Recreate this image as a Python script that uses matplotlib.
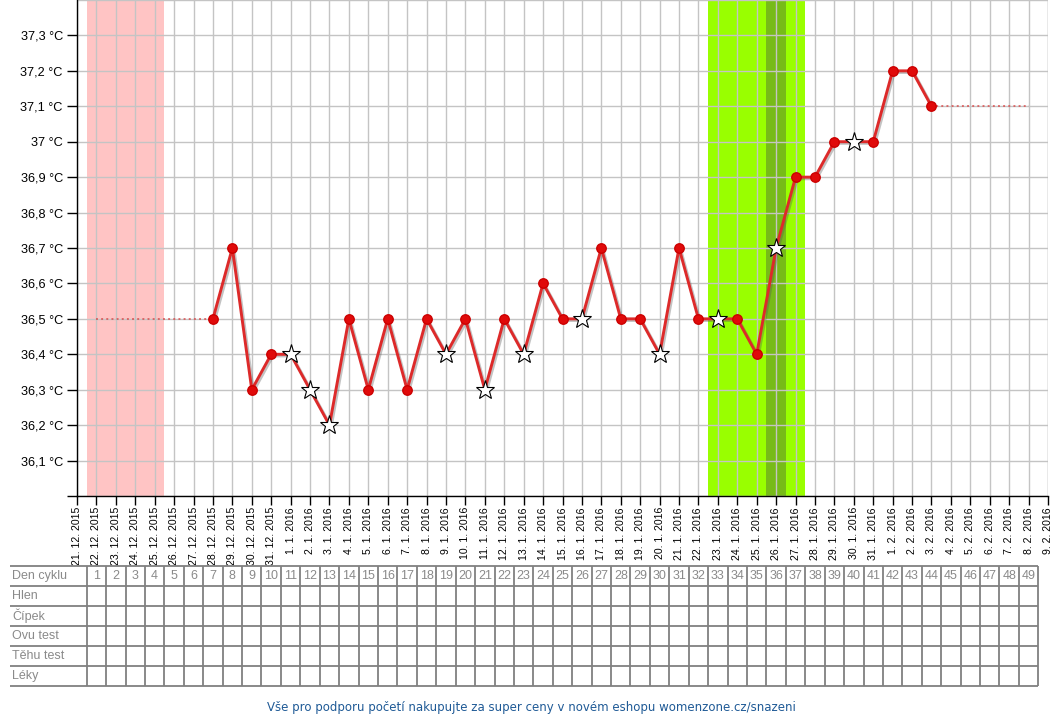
import matplotlib
matplotlib.use("Agg")
import matplotlib.pyplot as plt
import matplotlib.patheffects as pe
import numpy as np
import datetime as dt

# ---------------- data ----------------
start_date = dt.date(2015, 12, 21)          # day index 0 on the x axis
n_ticks = 51                                 # 21.12.2015 .. 9.2.2016
date_labels = [f"{d.day}. {d.month}. {d.year}"
               for d in (start_date + dt.timedelta(days=i) for i in range(n_ticks))]

cycle_days = list(range(1, 50))              # "Den cyklu" 1..49

meas_days = list(range(7, 45))
temps = [36.5, 36.7, 36.3, 36.4, 36.4, 36.3, 36.2, 36.5, 36.3, 36.5,
         36.3, 36.5, 36.4, 36.5, 36.3, 36.5, 36.4, 36.6, 36.5, 36.5,
         36.7, 36.5, 36.5, 36.4, 36.7, 36.5, 36.5, 36.5, 36.4, 36.7,
         36.9, 36.9, 37.0, 37.0, 37.0, 37.2, 37.2, 37.1]
star_days = [11, 12, 13, 19, 21, 23, 26, 30, 33, 36, 40]

# dotted (no-measurement) segments
pre_days, pre_temps = [1, 7], [36.5, 36.5]
post_days, post_temps = [44, 49], [37.1, 37.1]

period_days = [1, 2, 3, 4]
fertile_days = [33, 34, 35, 36, 37]
ovulation_days = [36]

ytick_vals = [36.0, 36.1, 36.2, 36.3, 36.4, 36.5, 36.6, 36.7, 36.8, 36.9,
              37.0, 37.1, 37.2, 37.3]
ytick_labels = ["", "36,1 °C", "36,2 °C", "36,3 °C", "36,4 °C", "36,5 °C",
                "36,6 °C", "36,7 °C", "36,8 °C", "36,9 °C", "37 °C",
                "37,1 °C", "37,2 °C", "37,3 °C"]

row_labels = ["Den cyklu", "Hlen", "Čípek", "Ovu test", "Těhu test", "Léky"]
footer = "Vše pro podporu početí nakupujte za super ceny v novém eshopu womenzone.cz/snazeni"

# ---------------- figure ----------------
W, H = 1060, 720
fig = plt.figure(figsize=(W / 100, H / 100), dpi=100)
plt.rcParams['font.family'] = ['Liberation Sans', 'DejaVu Sans']

L, R, T, B = 77, 1048, 0, 496
ax = fig.add_axes([L / W, 1 - B / H, (R - L) / W, (B - T) / H])
ax.set_xlim(0, n_ticks - 1)
ax.set_ylim(36.0, 37.4)

# background bands
for d in period_days:
    ax.axvspan(d - 0.5, d + 0.5, color='#ffc4c4', lw=0, zorder=0.5)
for d in fertile_days:
    ax.axvspan(d - 0.5, d + 0.5, color='#99ff00', lw=0, zorder=0.5)
for d in ovulation_days:
    ax.axvspan(d - 0.5, d + 0.5, color='#77bb18', lw=0, zorder=0.6)

# grid
ax.set_axisbelow('line')
ax.grid(True, color='#c4c4c4', lw=1.0)
ax.axhline(37.4, color='#c4c4c4', lw=1.0, zorder=1.5)
ax.axvline(n_ticks - 1, color='#c4c4c4', lw=1.0, zorder=1.5)

# ticks
ax.set_xticks(range(n_ticks))
ax.set_xticklabels(date_labels, rotation=90, ha='center', va='top', fontsize=7.6)
ax.set_yticks(ytick_vals)
ax.set_yticklabels(ytick_labels, fontsize=9.2)
ax.tick_params(axis='y', length=7.2, width=1, color='black', pad=3)
ax.tick_params(axis='x', length=6.5, width=1, color='black', pad=1.5)
for s in ['top', 'right']:
    ax.spines[s].set_visible(False)
for s in ['left', 'bottom']:
    ax.spines[s].set_color('black')
    ax.spines[s].set_linewidth(1)

# dotted segments
for xs, ys in [(pre_days, pre_temps), (post_days, post_temps)]:
    ax.plot(xs, ys, ls=':', color='#d84848', lw=1.4, alpha=0.75, zorder=2)

# main line
shadow = [pe.SimpleLineShadow(offset=(1.2, -1.2), shadow_color='#555555', alpha=0.35),
          pe.Normal()]
ax.plot(meas_days, temps, color='#dd2a2a', lw=2.1, zorder=3, path_effects=shadow,
        solid_joinstyle='round')

dot_x = [d for d in meas_days if d not in star_days]
dot_y = [t for d, t in zip(meas_days, temps) if d not in star_days]
star_x = [d for d in meas_days if d in star_days]
star_y = [t for d, t in zip(meas_days, temps) if d in star_days]
ax.plot(dot_x, dot_y, 'o', color='#e00a0a', ms=6.8, mec='#cc0000', zorder=4)
ax.plot(star_x, star_y, '*', color='white', ms=14, mec='black', mew=0.8, zorder=5)

# ---------------- table ----------------
TL, TT, TB = 10, 566, 686
day_per_px = (n_ticks - 1) / (R - L)
tax = fig.add_axes([TL / W, 1 - TB / H, (R - TL) / W, (TB - TT) / H])
tax.set_xlim(-(L - TL) * day_per_px, n_ticks - 1)
tax.set_ylim(len(row_labels), 0)
tax.axis('off')
grid_c = '#808080'
x_right = cycle_days[-1] + 0.5
for r in range(len(row_labels) + 1):
    tax.plot([-(L - TL) * day_per_px, x_right], [r, r], color=grid_c, lw=1.3,
             solid_capstyle='butt', clip_on=False)
for d in [c - 0.5 for c in cycle_days] + [x_right]:
    tax.plot([d, d], [0, len(row_labels)], color=grid_c, lw=1.3,
             solid_capstyle='butt', clip_on=False)
for r, lab in enumerate(row_labels):
    tax.text(-(L - TL - 2) * day_per_px, r + 0.5, lab, ha='left', va='center',
             fontsize=9, color='#8a8a8a')
for c in cycle_days:
    tax.text(c, 0.5, str(c), ha='center', va='center', fontsize=9, color='#8a8a8a')

# footer
fig.text(531 / W, 1 - 708 / H, footer, ha='center', va='center',
         fontsize=8.5, color='#1f5a96', family='DejaVu Sans')

fig.savefig('out.png', dpi=100)
